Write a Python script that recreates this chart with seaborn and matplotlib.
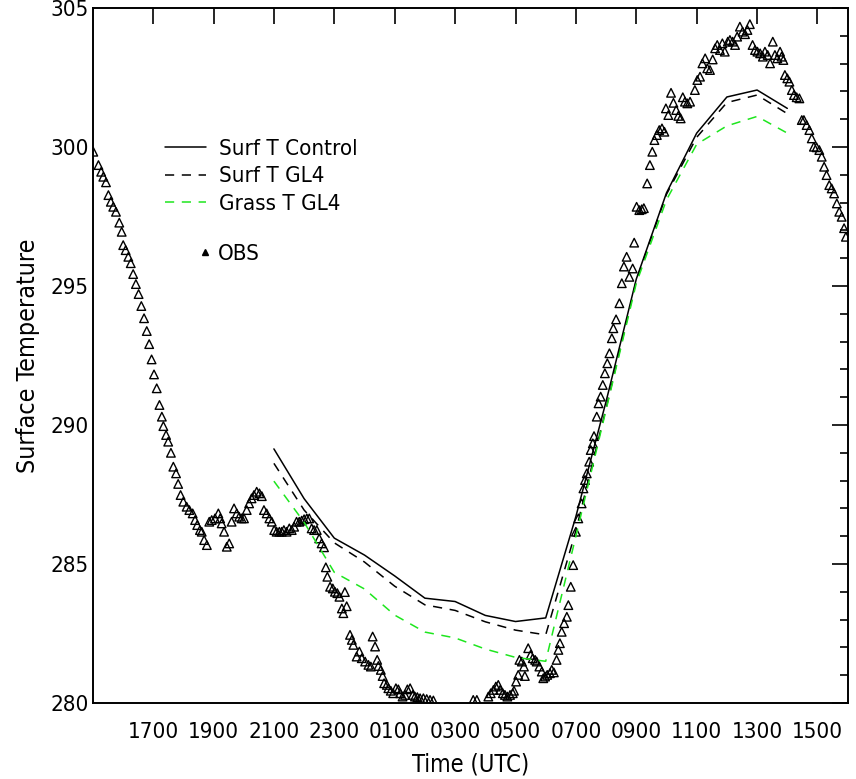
import matplotlib
matplotlib.use("Agg")
import matplotlib.pyplot as plt
import seaborn as sns
import numpy as np
from matplotlib.lines import Line2D
from matplotlib.ticker import MultipleLocator

# ---------------- data ----------------
# time axis: hours since 1500 UTC (day 1)
tick_hours = [2, 4, 6, 8, 10, 12, 14, 16, 18, 20, 22, 24]
tick_labels = ["1700", "1900", "2100", "2300", "0100", "0300",
               "0500", "0700", "0900", "1100", "1300", "1500"]

model_time = [6, 7, 8, 9, 10, 11, 12, 13, 14, 15, 16, 17, 18, 19, 20, 21, 22, 23]
surf_control = [289.14, 287.35, 285.93, 285.32, 284.57, 283.77, 283.65, 283.15, 282.93,
                283.06, 286.71, 290.85, 295.25, 298.35, 300.50, 301.80, 302.05, 301.39]
surf_gl4 = [288.62, 286.94, 285.76, 285.07, 284.20, 283.53, 283.33, 282.92, 282.62,
            282.45, 286.20, 290.60, 295.20, 298.30, 300.35, 301.60, 301.87, 301.20]
grass_gl4 = [287.98, 286.50, 284.70, 284.10, 283.16, 282.55, 282.34, 281.94, 281.64,
             281.50, 286.00, 290.55, 295.10, 298.10, 300.10, 300.76, 301.10, 300.50]

obs_time = [0.02, 0.19, 0.28, 0.35, 0.44, 0.52, 0.60, 0.68, 0.77, 0.88, 0.96, 1.01,
            1.09, 1.18, 1.26, 1.34, 1.43, 1.52, 1.61, 1.70, 1.79, 1.87, 1.95, 2.03,
            2.12, 2.21, 2.29, 2.34, 2.43, 2.50, 2.59, 2.67, 2.76, 2.83, 2.91, 3.00,
            3.11, 3.20, 3.31, 3.39, 3.46, 3.55, 3.61, 3.69, 3.78, 3.86, 3.94, 4.05,
            4.16, 4.22, 4.27, 4.35, 4.44, 4.52, 4.60, 4.68, 4.77, 4.85, 4.93, 5.01,
            5.10, 5.18, 5.26, 5.34, 5.43, 5.52, 5.60, 5.67, 5.76, 5.85, 5.93, 6.01,
            6.09, 6.18, 6.26, 6.33, 6.42, 6.51, 6.59, 6.67, 6.75, 6.84, 6.92, 7.00,
            7.09, 7.17, 7.25, 7.33, 7.42, 7.50, 7.58, 7.66, 7.72, 7.77, 7.86, 7.95,
            8.02, 8.10, 8.17, 8.25, 8.30, 8.35, 8.41, 8.52, 8.58, 8.63, 8.74, 8.83,
            8.91, 9.02, 9.13, 9.21, 9.27, 9.35, 9.42, 9.46, 9.54, 9.60, 9.65, 9.74,
            9.79, 9.87, 9.95, 10.04, 10.12, 10.18, 10.26, 10.34, 10.42, 10.51, 10.60, 10.67,
            10.75, 10.84, 10.95, 11.06, 11.17, 11.28, 12.60, 12.72, 13.10, 13.18, 13.27, 13.35,
            13.43, 13.49, 13.58, 13.65, 13.73, 13.82, 13.91, 13.95, 14.02, 14.09, 14.13, 14.21,
            14.28, 14.31, 14.42, 14.50, 14.57, 14.65, 14.70, 14.79, 14.87, 14.92, 14.98, 15.05,
            15.14, 15.20, 15.27, 15.36, 15.42, 15.47, 15.53, 15.61, 15.70, 15.75, 15.83, 15.91,
            16.00, 16.08, 16.19, 16.25, 16.30, 16.36, 16.44, 16.49, 16.56, 16.60, 16.69, 16.75,
            16.82, 16.89, 16.96, 17.04, 17.11, 17.19, 17.24, 17.33, 17.44, 17.52, 17.59, 17.68,
            17.77, 17.88, 17.93, 18.01, 18.10, 18.18, 18.25, 18.36, 18.45, 18.53, 18.60, 18.68,
            18.76, 18.85, 18.93, 18.98, 19.06, 19.15, 19.23, 19.32, 19.39, 19.47, 19.54, 19.61,
            19.69, 19.78, 19.94, 20.02, 20.11, 20.19, 20.28, 20.35, 20.44, 20.53, 20.61, 20.68,
            20.77, 20.85, 20.93, 21.03, 21.10, 21.19, 21.27, 21.34, 21.43, 21.52, 21.60, 21.68,
            21.76, 21.85, 21.93, 22.01, 22.10, 22.19, 22.26, 22.35, 22.43, 22.52, 22.59, 22.67,
            22.76, 22.81, 22.87, 22.92, 23.00, 23.07, 23.15, 23.22, 23.31, 23.40, 23.48, 23.55,
            23.64, 23.73, 23.81, 23.88, 23.97, 24.06, 24.14, 24.22, 24.30, 24.39, 24.47, 24.55,
            24.64, 24.72, 24.80, 24.88, 24.94]
obs_temp = [299.83, 299.35, 299.11, 298.93, 298.73, 298.27, 298.03, 297.85, 297.67, 297.28, 296.95, 296.47,
            296.29, 296.05, 295.82, 295.43, 295.07, 294.71, 294.28, 293.84, 293.38, 292.91, 292.36, 291.82,
            291.32, 290.72, 290.30, 289.96, 289.64, 289.40, 289.00, 288.50, 288.26, 287.88, 287.48, 287.24,
            287.06, 286.94, 286.82, 286.58, 286.40, 286.22, 286.16, 285.86, 285.68, 286.52, 286.58, 286.64,
            286.82, 286.64, 286.46, 286.16, 285.62, 285.74, 286.52, 287.00, 286.82, 286.70, 286.64, 286.64,
            286.94, 287.18, 287.36, 287.48, 287.60, 287.54, 287.44, 286.94, 286.82, 286.64, 286.52, 286.22,
            286.16, 286.16, 286.16, 286.22, 286.16, 286.28, 286.22, 286.34, 286.52, 286.52, 286.56, 286.61,
            286.64, 286.64, 286.28, 286.22, 286.22, 285.92, 285.74, 285.60, 284.88, 284.54, 284.18, 284.12,
            284.00, 283.95, 283.82, 283.40, 283.23, 283.99, 283.48, 282.45, 282.27, 282.09, 281.67, 281.85,
            281.61, 281.49, 281.37, 281.31, 282.39, 282.03, 281.55, 281.33, 281.19, 280.97, 280.71, 280.65,
            280.53, 280.44, 280.35, 280.53, 280.49, 280.35, 280.23, 280.29, 280.49, 280.53, 280.29, 280.23,
            280.21, 280.17, 280.17, 280.14, 280.11, 280.09, 280.11, 280.11, 280.23, 280.35, 280.47, 280.59,
            280.65, 280.47, 280.35, 280.29, 280.23, 280.29, 280.35, 280.44, 280.77, 281.01, 281.55, 281.49,
            281.31, 280.97, 281.97, 281.73, 281.61, 281.55, 281.49, 281.31, 281.13, 280.89, 280.95, 281.01,
            281.07, 281.19, 281.10, 281.55, 281.91, 282.15, 282.56, 282.87, 283.10, 283.52, 284.18, 284.96,
            286.16, 286.64, 287.18, 287.72, 288.02, 288.26, 288.68, 289.10, 289.34, 289.60, 290.30, 290.78,
            291.02, 291.44, 291.86, 292.22, 292.58, 293.12, 293.48, 293.80, 294.38, 295.10, 295.70, 296.05,
            295.33, 295.63, 296.56, 297.85, 297.73, 297.76, 297.80, 298.69, 299.35, 299.83, 300.25, 300.43,
            300.61, 300.67, 300.55, 301.39, 301.15, 301.95, 301.59, 301.33, 301.12, 301.03, 301.79, 301.63,
            301.57, 301.63, 302.05, 302.41, 302.53, 303.01, 303.19, 302.83, 302.77, 303.15, 303.55, 303.67,
            303.49, 303.73, 303.43, 303.79, 303.85, 303.79, 303.67, 303.97, 304.33, 304.15, 304.06, 304.21,
            304.42, 303.67, 303.49, 303.43, 303.37, 303.25, 303.43, 303.31, 303.01, 303.79, 303.31, 303.19,
            303.43, 303.25, 303.13, 302.59, 302.47, 302.35, 302.05, 301.87, 301.79, 301.75, 300.97, 300.97,
            300.79, 300.61, 300.31, 300.01, 299.99, 299.89, 299.65, 299.29, 298.99, 298.63, 298.51, 298.33,
            297.97, 297.67, 297.49, 297.08, 296.77]

# ---------------- style ----------------
sns.set_style("white")
plt.rcParams["font.family"] = ["DejaVu Sans"]
plt.rcParams["font.stretch"] = "condensed"
plt.rcParams["text.color"] = "black"
plt.rcParams["axes.labelcolor"] = "black"
FS = 16
GREEN = "#1ee61e"
LS = (0, (6, 5))

fig = plt.figure(figsize=(8.56, 7.79), dpi=100)
ax = fig.add_axes([0.1083, 0.0976, 0.8820, 0.8921])

sns.lineplot(x=model_time, y=surf_control, ax=ax, color="black", lw=1.1)
sns.lineplot(x=model_time, y=surf_gl4, ax=ax, color="black", lw=1.1, linestyle=LS)
sns.lineplot(x=model_time, y=grass_gl4, ax=ax, color=GREEN, lw=1.1, linestyle=LS)
sns.scatterplot(x=obs_time, y=obs_temp, ax=ax, marker="^", s=38, legend=False)
for coll in ax.collections:
    coll.set_facecolor("none")
    coll.set_edgecolor("black")
    coll.set_linewidth(1.0)

ax.set_xlim(0, 25)
ax.set_ylim(280, 305)
ax.set_xticks(tick_hours)
ax.set_xticklabels(tick_labels)
ax.yaxis.set_major_locator(MultipleLocator(5))
ax.yaxis.set_minor_locator(MultipleLocator(1))
ax.tick_params(axis="both", which="both", direction="in", top=True, right=True,
               colors="black", labelsize=FS)
ax.tick_params(axis="both", which="major", length=11.5, width=1.2)
ax.tick_params(axis="y", which="minor", length=6, width=1.2)
ax.tick_params(axis="x", which="major", pad=14)
ax.tick_params(axis="y", which="major", pad=3)
for sp in ax.spines.values():
    sp.set_color("black")
    sp.set_linewidth(1.4)

ax.set_xlabel("Time (UTC)", fontsize=17, labelpad=7)
ax.set_ylabel("Surface Temperature", fontsize=18, labelpad=7)

line_handles = [
    Line2D([], [], color="black", lw=1.1),
    Line2D([], [], color="black", lw=1.1, linestyle=LS),
    Line2D([], [], color=GREEN, lw=1.1, linestyle=LS),
]
line_labels = ["Surf T Control", "Surf T GL4", "Grass T GL4"]
leg1 = ax.legend(line_handles, line_labels, loc="upper left",
                 bbox_to_anchor=(0.096, 0.812), frameon=False, fontsize=FS,
                 handlelength=1.85, handletextpad=0.58, labelspacing=0.35,
                 borderpad=0, borderaxespad=0)
ax.add_artist(leg1)

obs_handle = Line2D([], [], color="none", marker="^", markerfacecolor="black",
                    markeredgecolor="black", markersize=5)
ax.legend([obs_handle], ["OBS"], loc="center left", bbox_to_anchor=(0.1397, 0.646),
          frameon=False, fontsize=FS, handlelength=0.6, handletextpad=0.3,
          borderpad=0, borderaxespad=0)

fig.savefig("out.png", dpi=100)
